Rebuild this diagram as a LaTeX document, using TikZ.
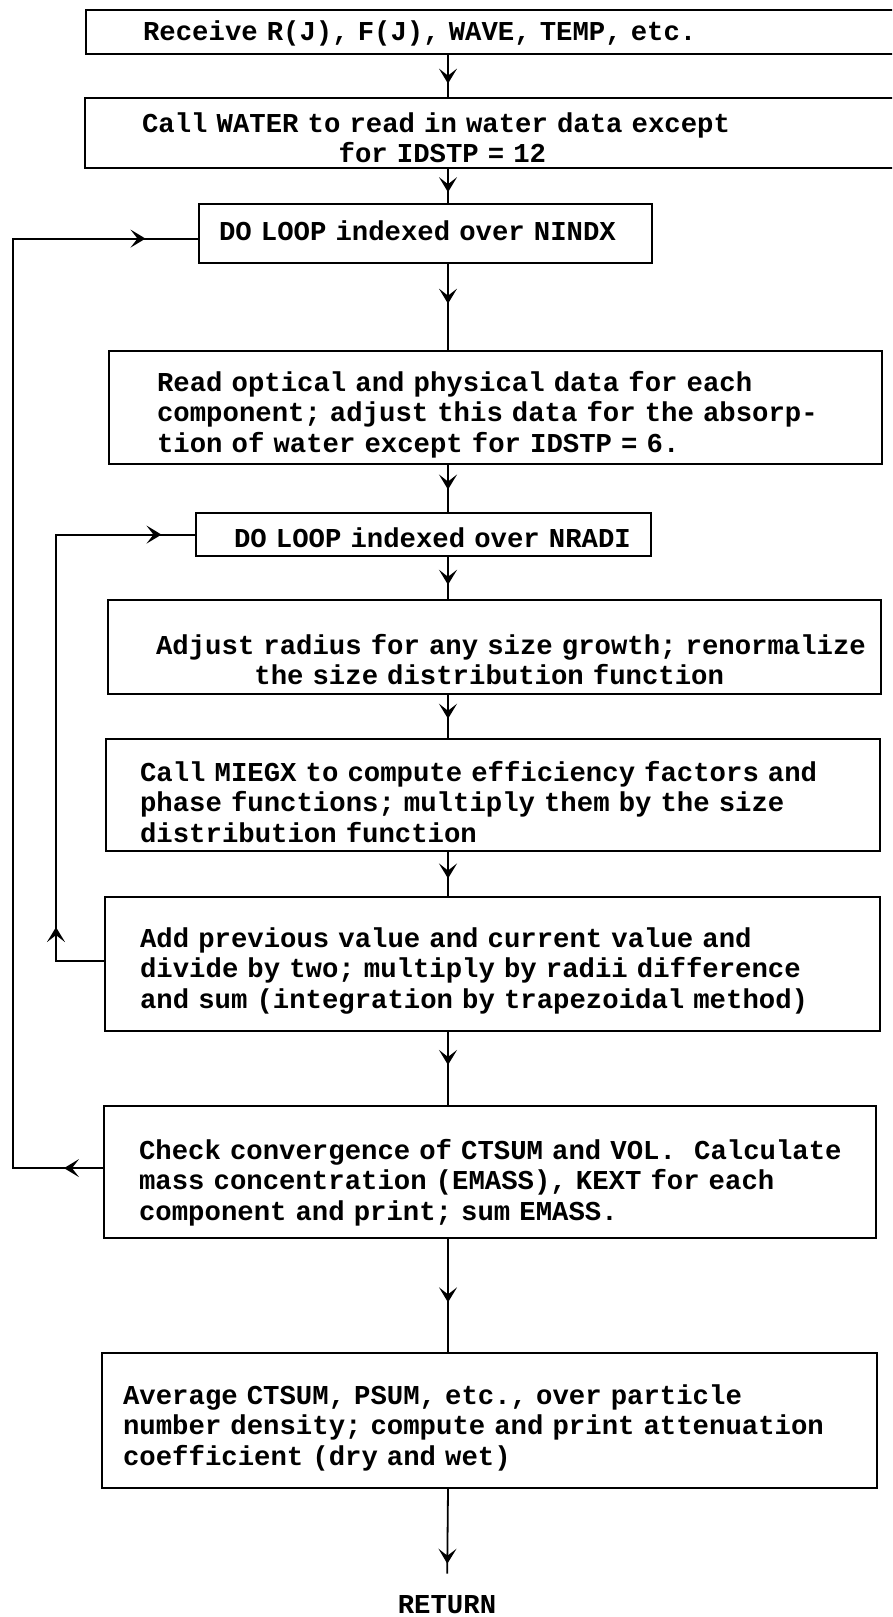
\documentclass[tikz,border=0pt]{standalone}
\usepackage{fontspec}
\setmainfont{Liberation Mono}
\usetikzlibrary{arrows.meta,decorations.markings}
\frenchspacing
\hfuzz=300pt
\hbadness=10000
\tikzset{
  flowbox/.style={draw, line width=2.2pt, anchor=north west, inner sep=0pt,
    align=left, font=\fontsize{27.3pt}{30.5pt}\selectfont\bfseries},
  link/.style={line width=1.8pt},
  tipat/.style={postaction={decorate,decoration={markings,
      mark=at position #1 with {\arrow{Stealth[length=15pt,width=18pt,inset=7pt]}}}}},
  endlabel/.style={font=\fontsize{27.3pt}{30.5pt}\selectfont\bfseries, inner sep=0pt},
}
\begin{document}
\begin{tikzpicture}[x=1pt,y=-1pt]
\path[use as bounding box] (0,0) rectangle (892,1617);
\clip (0,0) rectangle (892,1617);

% main column of steps
\node[flowbox, minimum width=825, minimum height=44, text width=711,
      text height=30, text depth=14] (b1) at (85,9)
  {\mbox{Receive R(J), F(J), WAVE, TEMP, etc.}};
\node[flowbox, minimum width=826, minimum height=70, text width=712,
      text height=34, text depth=36] (b2) at (84,97)
  {\mbox{Call WATER to read in water data except}\\
   \mbox{\hspace*{7.2em}for IDSTP = 12}};
\node[flowbox, minimum width=453, minimum height=59, text width=413,
      text height=36, text depth=23] (b3) at (198,203)
  {\mbox{DO LOOP indexed over NINDX}};
\node[flowbox, minimum width=773, minimum height=113, text width=677,
      text height=40, text depth=73] (b4) at (108,350)
  {\mbox{Read optical and physical data for each}\\
   \mbox{component; adjust this data for the absorp-}\\
   \mbox{tion of water except for IDSTP = 6.}};
\node[flowbox, minimum width=455, minimum height=43, text width=379,
      text height=34, text depth=9] (b5) at (195,512)
  {\mbox{DO LOOP indexed over NRADI}};
\node[flowbox, minimum width=773, minimum height=94, text width=677,
      text height=54, text depth=40] (b6) at (107,599)
  {\mbox{Adjust radius for any size growth; renormalize}\\
   \mbox{\hspace*{3.6em}the size distribution function}};
\node[flowbox, minimum width=774, minimum height=112, text width=706,
      text height=42, text depth=70] (b7) at (105,738)
  {\mbox{Call MIEGX to compute efficiency factors and}\\
   \mbox{phase functions; multiply them by the size}\\
   \mbox{distribution function}};
\node[flowbox, minimum width=775, minimum height=134, text width=705,
      text height=50, text depth=84] (b8) at (104,896)
  {\mbox{Add previous value and current value and}\\
   \mbox{divide by two; multiply by radii difference}\\
   \mbox{and sum (integration by trapezoidal method)}};
\node[flowbox, minimum width=772, minimum height=132, text width=702,
      text height=53, text depth=79] (b9) at (103,1105)
  {\mbox{Check convergence of CTSUM and VOL.\ \ Calculate}\\
   \mbox{mass concentration (EMASS), KEXT for each}\\
   \mbox{component and print; sum EMASS.}};
\node[flowbox, minimum width=775, minimum height=135, text width=733,
      text height=51, text depth=84] (b10) at (101,1352)
  {\mbox{Average CTSUM, PSUM, etc., over particle}\\
   \mbox{number density; compute and print attenuation}\\
   \mbox{coefficient (dry and wet)}};
\node[endlabel] (ret) at (447,1605) {RETURN};

% spine of the flow and the two loop rails
\coordinate (sp) at (448,0);
\coordinate (outer) at (13,0);
\coordinate (inner) at (56,0);

\draw[link, tipat=0.68] (b1.south -| sp) -- (b2.north -| sp);
\draw[link, tipat=0.68] (b2.south -| sp) -- (b3.north -| sp);
\draw[link, tipat=0.46] (b3.south -| sp) -- (b4.north -| sp);
\draw[link, tipat=0.52] (b4.south -| sp) -- (b5.north -| sp);
\draw[link, tipat=0.66] (b5.south -| sp) -- (b6.north -| sp);
\draw[link, tipat=0.55] (b6.south -| sp) -- (b7.north -| sp);
\draw[link, tipat=0.6]  (b7.south -| sp) -- (b8.north -| sp);
\draw[link, tipat=0.45] (b8.south -| sp) -- (b9.north -| sp);
\draw[link, tipat=0.56] (b9.south -| sp) -- (b10.north -| sp);
\draw[link, tipat=0.7, shorten >=22pt] (b10.south -| sp) -- (ret.north);

% inner loop over radii
\draw[link, tipat=82pt, tipat=580pt]
  ([yshift=3pt]b8.west) -- ([yshift=3pt]b8.west -| inner)
  -- (b5.west -| inner) -- (b5.west);
% outer loop over components
\draw[link, tipat=39pt, tipat=1152pt]
  ([yshift=4pt]b9.west) -- ([yshift=4pt]b9.west -| outer)
  -- ([yshift=-5pt]b3.west -| outer) -- ([yshift=-5pt]b3.west);
\end{tikzpicture}
\end{document}
